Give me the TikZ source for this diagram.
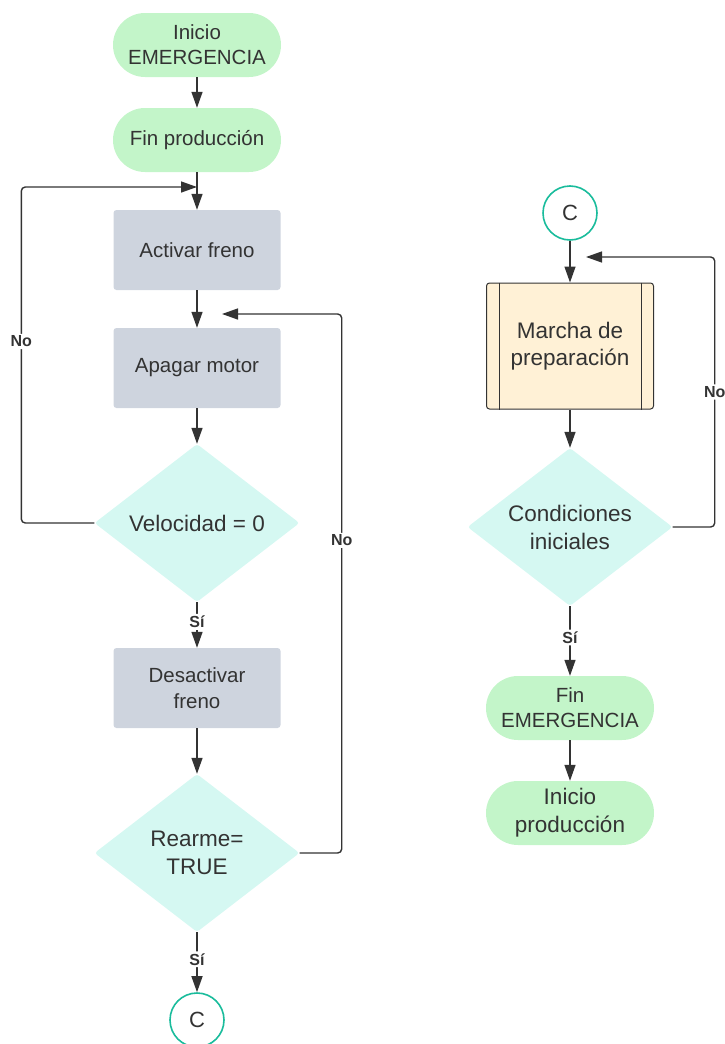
\documentclass[tikz,border=0pt]{standalone}
\usepackage{fontspec}
\setmainfont{Liberation Sans}
\usetikzlibrary{shapes.geometric,arrows.meta,positioning,calc}
\definecolor{termgreen}{RGB}{195,245,201}
\definecolor{stepgray}{RGB}{206,212,222}
\definecolor{decmint}{RGB}{213,248,242}
\definecolor{conteal}{RGB}{26,188,156}
\definecolor{procsand}{RGB}{255,241,214}
\definecolor{inkgray}{RGB}{51,51,51}

\begin{document}
\begin{tikzpicture}[
      x=1pt, y=-1pt,
      terminal/.style={rectangle, rounded corners=32pt, fill=termgreen,
                       minimum width=168pt, minimum height=64pt, inner sep=2pt,
                       align=center, text=inkgray,
                       font=\fontsize{20.5}{25}\selectfont},
      action/.style={rectangle, rounded corners=3pt, fill=stepgray,
                     minimum width=167pt, minimum height=80pt,
                     align=center, text=inkgray,
                     font=\fontsize{20.5}{26}\selectfont},
      decision/.style={diamond, aspect=1.3, rounded corners=3pt, fill=decmint,
                       minimum width=205pt, minimum height=158pt, inner sep=0pt,
                       align=center, text=inkgray,
                       font=\fontsize{22.5}{28}\selectfont},
      connector/.style={circle, draw=conteal, line width=1.6pt, fill=white,
                        minimum size=54pt, inner sep=0pt, text=inkgray,
                        font=\fontsize{22}{26}\selectfont},
      subproc/.style={rectangle, rounded corners=3pt, draw=inkgray, line width=1pt,
                      fill=procsand, minimum width=167pt, minimum height=126pt,
                      align=center, text=inkgray,
                      font=\fontsize{22.5}{27}\selectfont},
      arrow/.style={-{Triangle[length=16pt,width=11pt]}, line width=1.4pt,
                    draw=inkgray, rounded corners=4pt},
      lbl/.style={fill=white, inner sep=2pt, text=inkgray,
                  font=\fontsize{16}{18}\selectfont\bfseries}
    ]
      \useasboundingbox (0,0) rectangle (725,1044);
      %% Left column: emergency stop
      \node[terminal] (inicioem) at (197,45)  {Inicio\\EMERGENCIA};
      \node[terminal] (finprod)  at (197,140) {Fin producción};
      \node[action]   (activar)  at (197,250) {Activar freno};
      \node[action]   (apagar)   at (197,368) {Apagar motor};
      \node[decision] (veloc)    at (197,523) {Velocidad = 0};
      \node[action]   (desact)   at (197,688) {Desactivar\\freno};
      \node[decision] (rearme)   at (197,853) {Rearme=\\TRUE};
      \node[connector] (conA)    at (197,1020) {C};
      \coordinate (backA) at (197,187);
      \coordinate (backB) at (222,314);
      \draw[arrow] (inicioem) -- (finprod);
      \draw[arrow] (finprod) -- (activar);
      \draw[arrow] (activar) -- (apagar);
      \draw[arrow] (apagar) -- (veloc);
      \draw[arrow] (veloc) -- node[lbl, pos=0.43] {Sí} (desact);
      \draw[arrow] (desact) -- (rearme);
      \draw[arrow] (rearme) -- node[lbl, pos=0.45] {Sí} (conA);
      \draw[arrow] (veloc.west) -- ++(-73,0) |- node[lbl, pos=0.27] {No} (backA);
      \draw[arrow] (rearme.east) -- ++(42,0) |- node[lbl, pos=0.29] {No} (backB);
      %% Right column: restart
      \node[connector] (conB)   at (570,213) {C};
      \node[subproc]   (marcha) at (570,346) {Marcha de\\preparación};
      \draw[line width=1pt, inkgray]
            ($(marcha.north west)+(13,0)$) -- ($(marcha.south west)+(13,0)$)
            ($(marcha.north east)+(-13,0)$) -- ($(marcha.south east)+(-13,0)$);
      \node[decision] (condic) at (570,527) {Condiciones\\iniciales};
      \node[terminal] (finem)  at (570,708) {Fin\\EMERGENCIA};
      \node[terminal, font=\fontsize{22.5}{28}\selectfont]
            (inprod) at (570,813) {Inicio\\producción};
      \coordinate (backC) at (586,257);
      \draw[arrow] (conB) -- (marcha);
      \draw[arrow] (marcha) -- (condic);
      \draw[arrow] (condic) -- node[lbl, pos=0.45] {Sí} (finem);
      \draw[arrow] (finem) -- (inprod);
      \draw[arrow] (condic.east) -- ++(42,0) |- node[lbl, pos=0.25] {No} (backC);
    \end{tikzpicture}
\end{document}
